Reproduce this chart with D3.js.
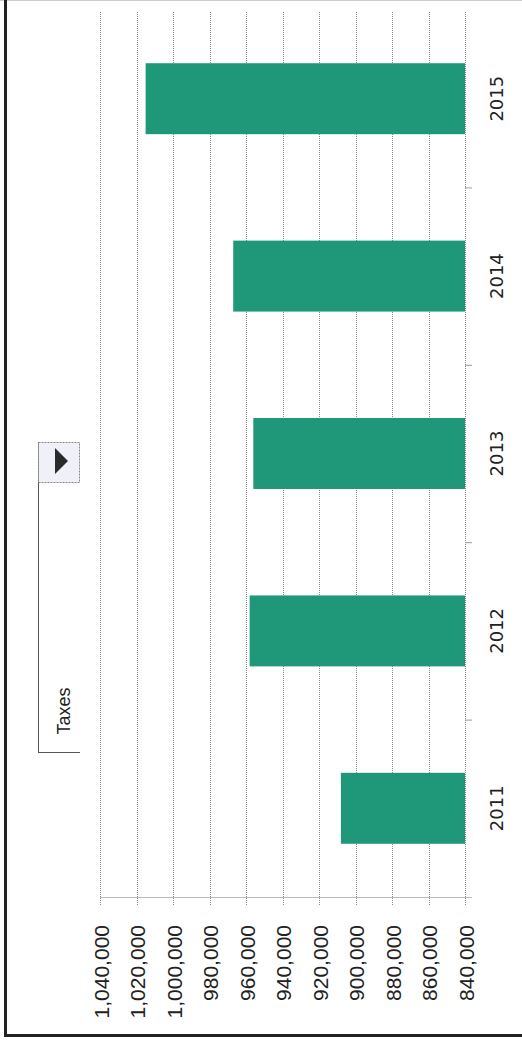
<!DOCTYPE html>
<html>
<head>
<meta charset="utf-8">
<script src="https://cdn.jsdelivr.net/npm/d3@7"></script>
<style>
  html, body { margin: 0; padding: 0; background: #fff; }
</style>
</head>
<body>
<div id="chart"></div>
<script>
const years = ["2011", "2012", "2013", "2014", "2015"];
const taxes = [908000, 958000, 956000, 967000, 1015000];
const tickValues = [840000, 860000, 880000, 900000, 920000, 940000, 960000, 980000, 1000000, 1020000, 1040000];
const seriesName = "Taxes";

const width = 522;
const height = 1042;
const format = d3.format(",d");

// the whole chart is printed sideways: values run right-to-left, years bottom-to-top
const x = d3.scaleLinear()
    .domain([840000, 1040000])
    .range([465, 100]);

const y = d3.scaleBand()
    .domain(years)
    .range([897, 10])
    .paddingInner(0.6)
    .paddingOuter(0.3);

const svg = d3.select("#chart").append("svg")
    .attr("width", width)
    .attr("height", height)
    .attr("viewBox", [0, 0, width, height]);

// page frame
svg.append("line")
    .attr("x1", 0).attr("x2", width).attr("y1", 0.5).attr("y2", 0.5)
    .attr("stroke", "#ccc");
svg.append("line")
    .attr("x1", 5.5).attr("x2", 5.5).attr("y1", 0).attr("y2", 1037)
    .attr("stroke", "#222").attr("stroke-width", 3);
svg.append("line")
    .attr("x1", 4).attr("x2", width).attr("y1", 1035.5).attr("y2", 1035.5)
    .attr("stroke", "#222").attr("stroke-width", 3);

// grid lines
svg.append("g")
    .selectAll("line")
    .data(tickValues)
    .join("line")
    .attr("x1", d => Math.round(x(d)) + 0.5)
    .attr("x2", d => Math.round(x(d)) + 0.5)
    .attr("y1", 12)
    .attr("y2", 905)
    .attr("stroke", "#8a8a8a")
    .attr("stroke-dasharray", "1,1");

// category axis line and separators
svg.append("line")
    .attr("x1", 100).attr("x2", 472).attr("y1", 897.5).attr("y2", 897.5)
    .attr("stroke", "#bbb");

const bounds = years.slice(1).map(yr => y(yr) + y.bandwidth() + y.step() * y.paddingInner() / 2);
svg.append("g")
    .selectAll("line")
    .data(bounds)
    .join("line")
    .attr("x1", 465).attr("x2", 472)
    .attr("y1", d => d + 0.5).attr("y2", d => d + 0.5)
    .attr("stroke", "#999");

// bars
svg.append("g")
    .selectAll("rect")
    .data(years)
    .join("rect")
    .attr("x", (d, i) => x(taxes[i]))
    .attr("y", d => y(d))
    .attr("width", (d, i) => x(840000) - x(taxes[i]))
    .attr("height", y.bandwidth())
    .attr("fill", "#1f987a");

// value labels
svg.append("g")
    .selectAll("text")
    .data(tickValues)
    .join("text")
    .attr("transform", d => `translate(${x(d) + 1},925) rotate(-90)`)
    .attr("text-anchor", "end")
    .attr("dy", "0.36em")
    .style("font", "21px 'Liberation Sans', Arial, sans-serif")
    .attr("fill", "#222")
    .text(d => format(d));

// year labels
svg.append("g")
    .selectAll("text")
    .data(years)
    .join("text")
    .attr("transform", d => `translate(497,${y(d) + y.bandwidth() / 2}) rotate(-90)`)
    .attr("text-anchor", "middle")
    .attr("dy", "0.36em")
    .style("font", "18px 'DejaVu Sans', sans-serif")
    .attr("fill", "#222")
    .text(d => d);

// series picker box
const picker = svg.append("g");
picker.append("line")
    .attr("x1", 38.5).attr("x2", 38.5).attr("y1", 442).attr("y2", 752)
    .attr("stroke", "#555");
picker.append("line")
    .attr("x1", 38).attr("x2", 80).attr("y1", 752.5).attr("y2", 752.5)
    .attr("stroke", "#555");
picker.append("rect")
    .attr("x", 38.5).attr("y", 442.5).attr("width", 41).attr("height", 40)
    .attr("fill", "#f0f0f8")
    .attr("stroke", "#888")
    .attr("stroke-dasharray", "2,1");
picker.append("path")
    .attr("d", "M55,448L68,461L55,474Z")
    .attr("fill", "#2a2a2a");
picker.append("text")
    .attr("transform", "translate(63.5,711) rotate(-90)")
    .attr("text-anchor", "middle")
    .attr("dy", "0.36em")
    .style("font", "18px 'Liberation Sans', Arial, sans-serif")
    .attr("fill", "#222")
    .text(seriesName);
</script>
</body>
</html>
